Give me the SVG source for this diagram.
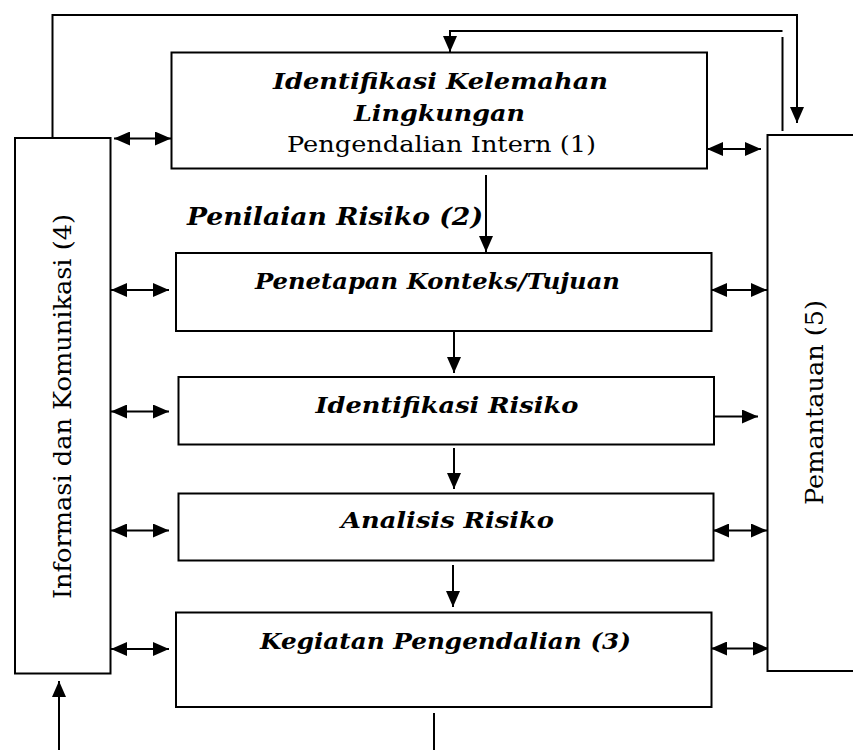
<svg xmlns="http://www.w3.org/2000/svg" width="853" height="750" viewBox="0 0 853 750">
<style>
.box{fill:#fff;stroke:#000;stroke-width:2}
.ln{fill:none;stroke:#000;stroke-width:2}
.hd{font-family:"DejaVu Serif","Liberation Serif",serif;font-weight:bold;font-style:italic;font-size:23px;fill:#000;text-anchor:middle}
.rg{font-family:"DejaVu Serif","Liberation Serif",serif;font-size:22px;fill:#000;text-anchor:middle}
.vt{font-family:"DejaVu Serif","Liberation Serif",serif;font-size:25px;fill:#000;text-anchor:middle}
</style>
<defs>
<marker id="ah" viewBox="0 0 16 14" refX="16" refY="7" markerWidth="16" markerHeight="14" markerUnits="userSpaceOnUse" orient="auto-start-reverse">
<path d="M0,0 L16,7 L0,14 z" fill="#000"/>
</marker>
</defs>
<rect width="853" height="750" fill="#fff"/>

<g id="connectors">
<polyline class="ln" points="52.5,138 52.5,15 797,15 797,123" marker-end="url(#ah)"/>
<polyline class="ln" points="782.5,131 782.5,37"/>
<polyline class="ln" points="782.5,31 450,31 450,52" marker-end="url(#ah)"/>
<line class="ln" x1="486" y1="175" x2="486" y2="252" marker-end="url(#ah)"/>
<line class="ln" x1="454" y1="332" x2="454" y2="373" marker-end="url(#ah)"/>
<line class="ln" x1="454" y1="448" x2="454" y2="489" marker-end="url(#ah)"/>
<line class="ln" x1="453" y1="565" x2="453" y2="607" marker-end="url(#ah)"/>
<line class="ln" x1="434" y1="713" x2="434" y2="750"/>
<line class="ln" x1="59" y1="750" x2="59" y2="681" marker-end="url(#ah)"/>
<line class="ln" x1="114" y1="138.5" x2="171" y2="138.5" marker-start="url(#ah)" marker-end="url(#ah)"/>
<line class="ln" x1="707" y1="149" x2="761" y2="149" marker-start="url(#ah)" marker-end="url(#ah)"/>
<line class="ln" x1="111" y1="290" x2="169" y2="290" marker-start="url(#ah)" marker-end="url(#ah)"/>
<line class="ln" x1="711" y1="290" x2="767" y2="290" marker-start="url(#ah)" marker-end="url(#ah)"/>
<line class="ln" x1="111" y1="411.5" x2="169" y2="411.5" marker-start="url(#ah)" marker-end="url(#ah)"/>
<line class="ln" x1="714" y1="416.5" x2="758" y2="416.5" marker-end="url(#ah)"/>
<line class="ln" x1="111" y1="530.5" x2="169" y2="530.5" marker-start="url(#ah)" marker-end="url(#ah)"/>
<line class="ln" x1="713" y1="530.5" x2="767" y2="530.5" marker-start="url(#ah)" marker-end="url(#ah)"/>
<line class="ln" x1="111" y1="649" x2="169" y2="649" marker-start="url(#ah)" marker-end="url(#ah)"/>
<line class="ln" x1="711" y1="648.5" x2="769" y2="648.5" marker-start="url(#ah)" marker-end="url(#ah)"/>
</g>

<g id="info-komunikasi">
<rect class="box" x="15" y="138" width="95.5" height="535.5"/>
<text class="vt" transform="translate(71,406.5) rotate(-90)" textLength="385" lengthAdjust="spacingAndGlyphs">Informasi dan Komunikasi (4)</text>
</g>

<g id="pemantauan">
<rect class="box" x="767.5" y="135" width="100" height="536"/>
<text class="vt" transform="translate(823,402.5) rotate(-90)" textLength="205" lengthAdjust="spacingAndGlyphs">Pemantauan (5)</text>
</g>

<g id="lingkungan">
<rect class="box" x="171.5" y="52.5" width="535.5" height="116"/>
<text class="hd" x="440.5" y="89" textLength="335" lengthAdjust="spacingAndGlyphs">Identifikasi Kelemahan</text>
<text class="hd" x="439.5" y="121" textLength="171" lengthAdjust="spacingAndGlyphs">Lingkungan</text>
<text class="rg" x="441.5" y="152" textLength="309" lengthAdjust="spacingAndGlyphs">Pengendalian Intern (1)</text>
</g>

<g id="penilaian-label">
<text class="hd" x="187" y="225" style="text-anchor:start;font-size:25px" textLength="296" lengthAdjust="spacingAndGlyphs">Penilaian Risiko (2)</text>
</g>

<g id="penetapan">
<rect class="box" x="176" y="253" width="535.5" height="78"/>
<text class="hd" x="437.5" y="289" textLength="365" lengthAdjust="spacingAndGlyphs">Penetapan Konteks/Tujuan</text>
</g>

<g id="identifikasi-risiko">
<rect class="box" x="178.5" y="377" width="535.5" height="67.5"/>
<text class="hd" x="447" y="413" textLength="263" lengthAdjust="spacingAndGlyphs">Identifikasi Risiko</text>
</g>

<g id="analisis-risiko">
<rect class="box" x="178.5" y="493.5" width="535" height="67"/>
<text class="hd" x="447.5" y="528" textLength="213" lengthAdjust="spacingAndGlyphs">Analisis Risiko</text>
</g>

<g id="kegiatan-pengendalian">
<rect class="box" x="176" y="612.5" width="535.5" height="94.5"/>
<text class="hd" x="445.5" y="649" textLength="371" lengthAdjust="spacingAndGlyphs">Kegiatan Pengendalian (3)</text>
</g>
</svg>
